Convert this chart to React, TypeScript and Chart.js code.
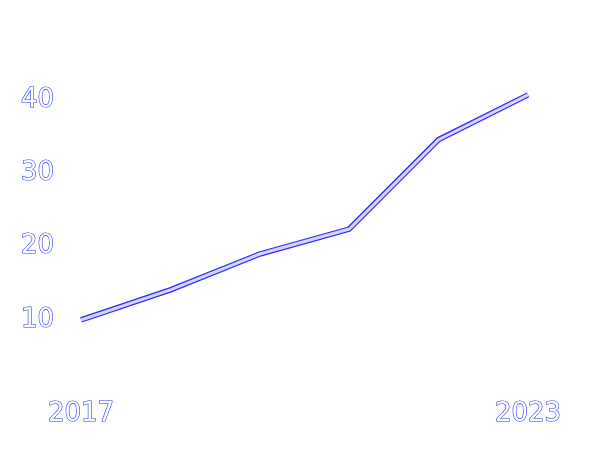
import React, { useEffect, useRef } from "react";
import { Chart, registerables } from "chart.js";

Chart.register(...registerables);

const years = ["2017", "2018", "2019", "2020", "2021", "2023"];
const values = [10.0, 14.1, 19.0, 22.4, 34.6, 40.7];
const yTicksShown = [10, 20, 30, 40];

export default function App() {
  const ref = useRef<HTMLCanvasElement | null>(null);
  useEffect(() => {
    if (!ref.current) return;
    const font = { family: "DejaVu Sans", size: 26, weight: "normal" as const };
    const chart = new Chart(ref.current, {
      type: "line",
      data: {
        labels: years,
        datasets: [
          {
            data: values,
            borderColor: "#d4d4ff",
            borderWidth: 3,
            pointRadius: 0,
            tension: 0,
          },
          {
            data: values,
            borderColor: "#2a2aff",
            borderWidth: 5.5,
            pointRadius: 0,
            tension: 0,
          },
        ],
      },
      options: {
        responsive: false,
        animation: false,
        layout: { padding: { top: 26.7, right: 81, left: 0, bottom: 0 } },
        plugins: { legend: { display: false }, tooltip: { enabled: false } },
        scales: {
          x: {
            grid: { display: false, drawTicks: false },
            border: { display: false },
            ticks: {
              autoSkip: false,
              maxRotation: 0,
              padding: 5,
              font,
              color: "#ffffff",
              textStrokeColor: "#2530ff",
              textStrokeWidth: 1.2,
              callback: (v: any, i: number) =>
                i === 0 || i === years.length - 1 ? years[i] : "",
            },
            afterFit: (s: any) => {
              s.height = 62.7;
              s.paddingLeft = 0;
              s.paddingRight = 0;
            },
          },
          y: {
            min: 0,
            max: 50,
            grid: { display: false, drawTicks: false },
            border: { display: false },
            ticks: {
              stepSize: 10,
              padding: 27,
              font,
              color: "#ffffff",
              textStrokeColor: "#2530ff",
              textStrokeWidth: 1.2,
              callback: (v: any) => (yTicksShown.includes(Number(v)) ? String(v) : ""),
            },
            afterFit: (s: any) => {
              s.width = 81;
              s.paddingTop = 0;
              s.paddingBottom = 0;
            },
          },
        },
      },
    });
    return () => chart.destroy();
  }, []);
  return (
    <div style={{ position: "fixed", left: 0, top: 0, width: 609, height: 456, background: "#fff" }}>
      <canvas ref={ref} width={609} height={456} />
    </div>
  );
}
